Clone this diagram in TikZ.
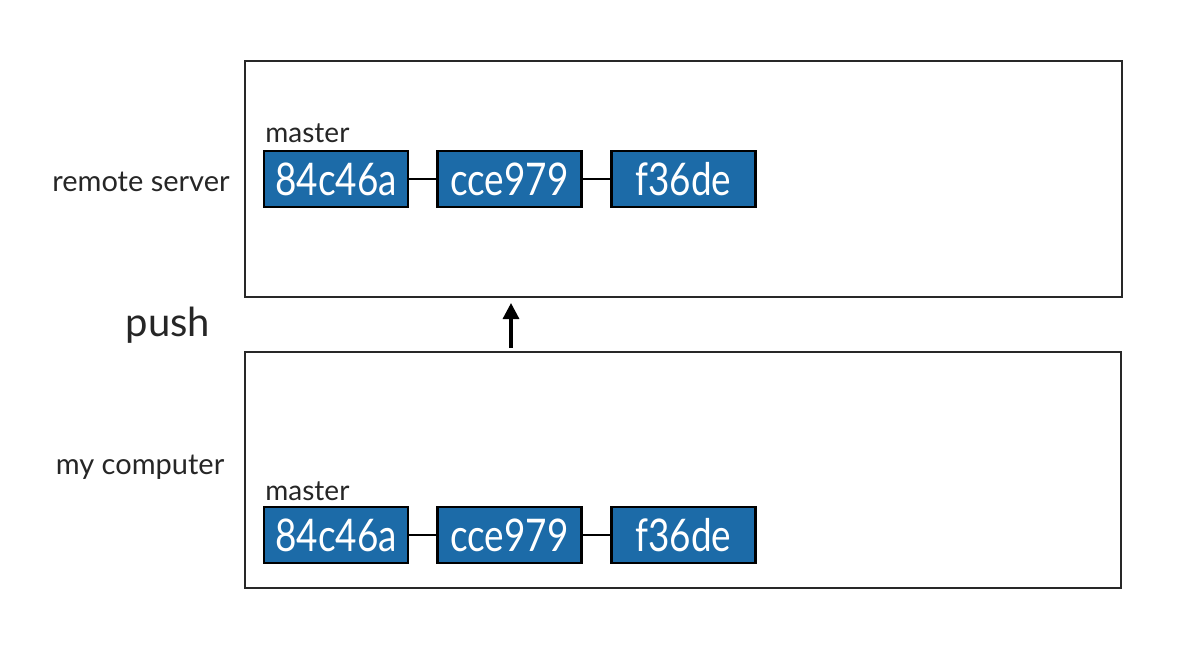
\documentclass[tikz,border=0pt]{standalone}
\usepackage{fontspec}
\setmainfont{Lato}
\newfontfamily\hashfont[FakeStretch=0.82]{Lato}
\usetikzlibrary{arrows.meta}
\definecolor{commitblue}{RGB}{28,107,168}
\definecolor{frame}{RGB}{40,40,40}
\tikzset{
  area/.style={draw=frame, line width=1pt},
  commit/.style={draw=black, line width=1.3pt, fill=commitblue, text=white,
    minimum width=72pt, minimum height=28pt, inner sep=0pt,
    font=\hashfont\fontsize{22.5}{23}\selectfont},
  link/.style={draw=black, line width=1.2pt},
  lbl/.style={font=\fontsize{14.5}{16}\selectfont, text=black!85},
  branch/.style={font=\fontsize{14}{15}\selectfont, anchor=west, text=black!85, inner sep=0pt},
}
\begin{document}
\begin{tikzpicture}[x=0.5pt,y=-0.5pt]
\useasboundingbox (0,0) rectangle (1190,654);
\node[area, minimum width=438.5pt, minimum height=118pt, inner sep=0pt] (remote) at (683.5,179) {};
\node[area, minimum width=438pt, minimum height=118pt, inner sep=0pt] (local) at (683,470) {};
\node[lbl] (rlbl) at (141,182) {remote server};
\node[lbl] (llbl) at (140,467) {my computer};
\node[font=\fontsize{20}{22}\selectfont, text=black!85] (push) at (168,325) {push};
% remote commits
\node[branch] (rm) at (265,133) {master};
\node[commit] (r1) at (336,179) {84c46a};
\node[commit] (r2) at (509.5,179) {cce979};
\node[commit] (r3) at (683.5,179) {f36de};
\draw[link] (r1) -- (r2);
\draw[link] (r2) -- (r3);
% local commits
\node[branch] (lm) at (265,491) {master};
\node[commit] (l1) at (336,535) {84c46a};
\node[commit] (l2) at (509.5,535) {cce979};
\node[commit] (l3) at (683.5,535) {f36de};
\draw[link] (l1) -- (l2);
\draw[link] (l2) -- (l3);
% push arrow
\coordinate (pa) at (511,348);
\coordinate (pb) at (511,303);
\draw[line width=1.6pt, -{Triangle[length=8pt,width=8pt]}] (pa) -- (pb);
\end{tikzpicture}
\end{document}
